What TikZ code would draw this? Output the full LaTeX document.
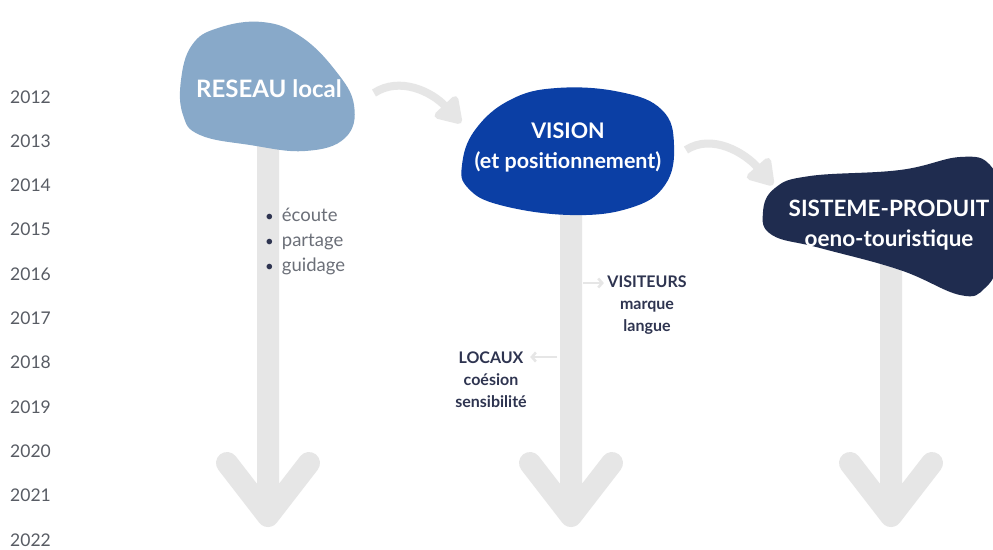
\documentclass[tikz,border=0pt]{standalone}
\usepackage{fontspec}
\setmainfont{Lato}
\usetikzlibrary{arrows.meta}

\definecolor{reseaublue}{HTML}{88A9C9}
\definecolor{visionblue}{HTML}{0B3FA5}
\definecolor{produitnavy}{HTML}{1F2C4F}
\definecolor{bargray}{HTML}{E6E6E6}
\definecolor{yeargray}{HTML}{585C64}
\definecolor{itemgray}{HTML}{6B6F78}
\definecolor{labelnavy}{HTML}{2E3450}

\pgfdeclarelayer{paper}
\pgfdeclarelayer{back}
\pgfsetlayers{paper,back,main}

\newcommand{\itemdot}{{\color{labelnavy}\fontsize{15}{15}\selectfont•}\hspace{8pt}}

\begin{document}
\begin{tikzpicture}[x=1pt, y=-1pt,
    year/.style={font=\fontsize{17.5}{17.5}\selectfont, text=yeargray, anchor=base west, inner sep=0pt},
    blobtext/.style={font=\bfseries\fontsize{21.5}{30}\selectfont, text=white, align=center},
    item/.style={font=\fontsize{18.5}{18.5}\selectfont, text=itemgray, anchor=base west, inner sep=0pt},
    aside/.style={font=\bfseries\fontsize{16}{22}\selectfont, text=labelnavy, align=center},
    bar/.style={line width=22pt, draw=bargray, line cap=round, line join=round},
    swoosh/.style={line width=8pt, draw=bargray, -{Triangle[length=28pt,width=34pt,round]}},
    hint/.style={line width=2.5pt, draw=bargray, -{Straight Barb[length=4pt,width=9pt]}}]

  \path[use as bounding box] (0,0) rectangle (993,549);
  \begin{pgfonlayer}{paper}
    \fill[white] (0,0) rectangle (993,549);
  \end{pgfonlayer}

  % years
  \foreach \i in {0,...,10} {
    \pgfmathtruncatemacro\yr{2012+\i}
    \node[year] (y\yr) at (10, 103+44.3*\i) {\yr};
  }

  % blobs
  \fill[reseaublue] plot[smooth cycle, tension=0.7] coordinates {(181,80) (192,45) (218,28) (262,22) (300,36)
    (335,70) (354,105) (345,138) (305,151) (250,145) (200,135) (183,115)};
  \fill[visionblue] plot[smooth cycle, tension=0.7] coordinates {(462,165) (475,130) (510,100) (557,88) (620,92)
    (662,110) (674,145) (665,185) (630,208) (570,215) (500,205) (468,188)};
  \fill[produitnavy] plot[smooth cycle, tension=0.7] coordinates {(763,212) (775,188) (810,176) (900,170) (960,157)
    (990,165) (1000,200) (998,260) (985,288) (960,295) (900,270) (820,248) (772,235)};

  \node[blobtext, font=\bfseries\fontsize{24}{24}\selectfont] (reseau) at (269,89) {RESEAU local};
  \node[blobtext] (vision) at (568,147) {VISION\\(et positionnement)};
  \node[blobtext, font=\bfseries\fontsize{22.5}{30}\selectfont] (produit) at (889,225) {SISTEME-PRODUIT\\oeno-touristique};

  % time bars
  \coordinate (reseau-end) at (268,516);
  \coordinate (vision-end) at (571,516);
  \coordinate (produit-end) at (891,516);
  \begin{pgfonlayer}{back}
    \foreach \b in {reseau,vision,produit}
      \draw[bar] (\b-end |- \b.south) -- (\b-end) -- ++(-41,-53) (\b-end) -- ++(41,-53);
  \end{pgfonlayer}

  % curved arrows
  \coordinate (swoosh1-a) at (374,93);
  \coordinate (swoosh1-b) at (461,123);
  \coordinate (swoosh2-a) at (686,150);
  \coordinate (swoosh2-b) at (773,185);
  \draw[swoosh] (swoosh1-a) .. controls (400,76) and (432,92) .. (swoosh1-b);
  \draw[swoosh] (swoosh2-a) .. controls (712,133) and (745,153) .. (swoosh2-b);

  % items
  \node[item] (ecoute) at (265,221) {\itemdot écoute};
  \node[item] (partage) at (265,246) {\itemdot partage};
  \node[item] (guidage) at (265,271) {\itemdot guidage};

  \node[aside] (visiteurs) at (647,305) {VISITEURS\\marque\\langue};
  \node[aside] (locaux) at (491,380) {LOCAUX\\coésion\\sensibilité};

  \coordinate (hint-vis) at (583,283);
  \coordinate (hint-loc) at (557,357);
  \draw[hint] (hint-vis) -- (visiteurs.west |- hint-vis);
  \draw[hint] (hint-loc) -- (locaux.east |- hint-loc);
\end{tikzpicture}
\end{document}
